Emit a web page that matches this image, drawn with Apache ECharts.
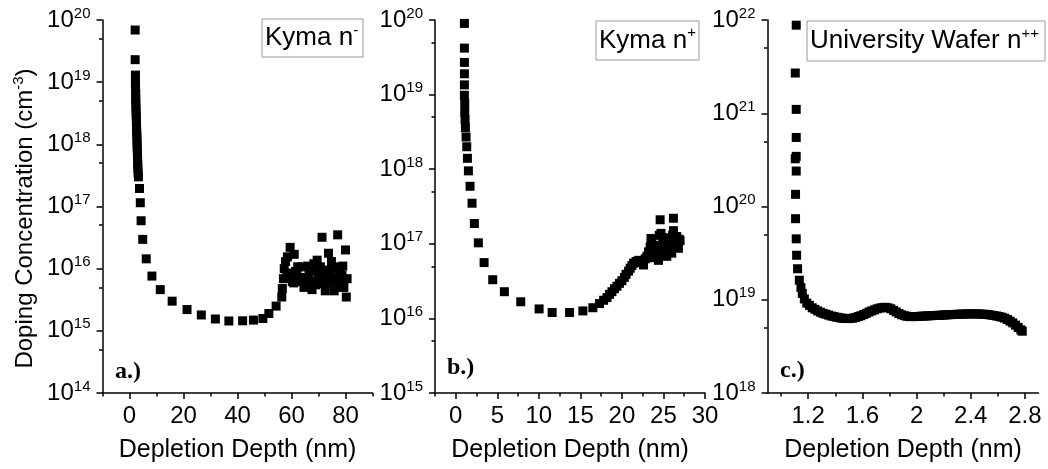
<!DOCTYPE html>
<html><head><meta charset="utf-8">
<script src="https://cdn.jsdelivr.net/npm/echarts@6/dist/echarts.min.js"></script>
<style>html,body{margin:0;padding:0;background:#fff}#c{width:1048px;height:469px}</style>
</head><body><div id="c"></div>
<script>
// ---- Panel a: Kyma n- ----
const depthA = [2.1,2.1,2.2,2.2,2.2,2.25,2.3,2.3,2.35,2.4,2.45,2.5,2.55,2.6,2.65,2.7,2.75,2.8,2.85,2.9,2.95,3.0,3.05,3.1,3.2,
  3.3,3.7,4.0,4.3,4.9,6.2,8.3,11.4,15.8,21.3,26.6,31.8,36.8,41.9,45.9,49.4,51.6,54.3,56.4,56.6,57.0,
  57.3,58.5,59.5,61.0,58.3,60.3,62.0,63.2,63.9,65.2,65.8,67.6,67.6,68.9,69.5,70.0,71.3,70.7,71.9,72.5,73.7,74.4,75.0,75.6,76.2,77.1,75.8,77.4,78.7,80.0,80.6,80.3,79.4,60.8,64.6,66.5,68.3,71.6,73.3,73.9,76.8,78.0,62.3,59.0,61.5,64.0,66.0,69.0,72.0,74.8,77.8,79.0,57.8];
const concA = [6.9e19,2.3e19,1.3e19,1.05e19,9.0e18,7.6e18,6.4e18,5.4e18,4.6e18,3.9e18,3.3e18,2.8e18,2.35e18,2.0e18,1.7e18,1.45e18,1.25e18,1.05e18,9.0e17,7.7e17,6.6e17,5.6e17,4.8e17,4.1e17,3.5e17,
  3.0e17,1.95e17,1.15e17,5.9e16,2.96e16,1.44e16,7.6e15,4.6e15,3.0e15,2.2e15,1.8e15,1.55e15,1.44e15,1.45e15,1.49e15,1.58e15,1.9e15,2.5e15,3.5e15,4.8e15,6.9e15,
  1.0e16,1.55e16,2.2e16,1.7e16,8.5e15,6.2e15,7.9e15,6.2e15,1.07e16,7.2e15,5.2e15,6.2e15,4.6e15,9.1e15,1.37e16,7.2e15,3.2e16,1.07e16,5.8e15,4.4e15,1.77e16,8.2e15,1.07e16,6.2e15,1.07e16,3.5e16,4.4e15,5.8e15,7.9e15,2.0e16,6.9e15,3.5e15,5.0e15,5.9e15,5.0e15,8.5e15,1.2e16,6.5e15,7.2e15,5.8e15,7.2e15,5.0e15,1.07e16,7.0e15,9.0e15,6.8e15,1.1e16,5.5e15,9.5e15,1.3e16,9.0e15,1.1e16,1.3e16];

// ---- Panel b: Kyma n+ ----
const depthB = [1.04,1.04,1.04,1.04,1.04,1.04,1.08,1.08,1.12,1.16,1.24,1.32,1.4,1.52,1.72,1.96,2.24,2.72,3.41,4.45,5.85,7.82,10.03,11.6,13.7,15.3,16.5,17.3,
  17.8,18.2,18.5,18.8,19.1,19.4,19.7,20.0,20.3,20.5,20.8,21.0,21.2,21.4,21.7,22.0,22.3,22.6,23.0,23.4,23.5,24.0,24.4,24.6,24.7,25.0,25.4,25.8,26.2,26.2,26.6,27.0,26.8,
  23.2,23.6,23.8,24.0,24.2,24.4,24.5,24.8,25.1,25.2,25.5,25.6,26.0,26.1,26.3,26.5,26.9,26.4,25.3,24.9,22.8,23.3,23.9,24.3,25.7];
const concB = [9.0e19,4.2e19,2.7e19,1.9e19,1.35e19,9.8e18,7.6e18,5.8e18,4.6e18,3.6e18,2.7e18,2.0e18,1.4e18,9.5e17,5.9e17,3.5e17,1.87e17,1.03e17,5.6e16,3.3e16,2.28e16,1.67e16,1.34e16,1.2e16,1.2e16,1.26e16,1.39e16,1.58e16,
  1.75e16,1.9e16,2.1e16,2.28e16,2.5e16,2.7e16,2.95e16,3.2e16,3.55e16,3.9e16,4.3e16,4.7e16,5.1e16,5.5e16,5.8e16,6.0e16,5.6e16,5.2e16,6.8e16,9.1e16,1.18e17,7.5e16,6.0e16,2.1e17,1.38e17,9.1e16,6.8e16,1.0e17,2.2e17,1.5e17,1.25e17,1.1e17,8.7e16,
  7.8e16,1.05e17,8.5e16,7.0e16,9.5e16,6.2e16,1.3e17,8.0e16,1.1e17,7.0e16,1.2e17,8.5e16,7.5e16,1.3e17,9.0e16,1.1e17,1.15e17,1.0e17,8.5e16,1.2e17,6.3e16,6.5e16,6.6e16,7.2e16,7.8e16];

// ---- Panel c: University Wafer n++ ----
const depthC = [1.112,1.105,1.112,1.112,1.112,1.105,1.112,1.107,1.107,1.112,1.115,1.122,1.135,1.147,1.157,1.172,1.19,1.21,1.23,1.25,1.27,1.29,1.31,1.33,1.35,1.37,1.39,1.41,1.43,1.45,1.47,1.49,1.51,1.53,1.55,1.57,1.59,1.61,1.63,1.65,1.67,1.69,1.71,1.73,1.75,1.77,1.79,1.81,1.83,1.85,1.87,1.89,1.91,1.93,1.95,1.97,1.99,2.01,2.03,2.05,2.07,2.09,2.11,2.13,2.15,2.17,2.19,2.21,2.23,2.25,2.27,2.29,2.31,2.33,2.35,2.37,2.39,2.41,2.43,2.45,2.47,2.49,2.51,2.53,2.55,2.57,2.59,2.61,2.63,2.65,2.67,2.69,2.71,2.73,2.75,2.77,2.78];
const concC = [8.8e21,2.7e21,1.1e21,5.5e20,3.45e20,3.25e20,2.4e20,1.35e20,7.4e19,4.5e19,3.0e19,2.15e19,1.62e19,1.35e19,1.17e19,1.02e19,9.2e18,8.7e18,8.2e18,7.9e18,7.6e18,7.35e18,7.15e18,7.0e18,6.85e18,6.7e18,6.6e18,6.5e18,6.42e18,6.35e18,6.3e18,6.28e18,6.3e18,6.35e18,6.45e18,6.6e18,6.75e18,6.95e18,7.15e18,7.4e18,7.6e18,7.8e18,8.0e18,8.15e18,8.25e18,8.3e18,8.2e18,8.0e18,7.7e18,7.4e18,7.1e18,6.9e18,6.75e18,6.65e18,6.6e18,6.6e18,6.6e18,6.62e18,6.65e18,6.68e18,6.7e18,6.72e18,6.75e18,6.78e18,6.8e18,6.82e18,6.85e18,6.87e18,6.9e18,6.92e18,6.95e18,6.97e18,7.0e18,7.0e18,7.02e18,7.05e18,7.05e18,7.05e18,7.05e18,7.05e18,7.03e18,7.0e18,6.97e18,6.92e18,6.85e18,6.78e18,6.7e18,6.6e18,6.5e18,6.35e18,6.15e18,5.9e18,5.65e18,5.35e18,5.05e18,4.75e18,4.6e18];

// ---- Axis ticks ----
const xTicksA = [0,20,40,60,80], xMinorA = [-10,10,30,50,70,90];
const xTicksB = [0,5,10,15,20,25,30], xMinorB = [-2.5,2.5,7.5,12.5,17.5,22.5,27.5];
const xTicksC = [1.2,1.6,2,2.4,2.8], xMinorC = [1.0,1.4,1.8,2.2,2.6];
const yRangeA = [14,20], yRangeB = [15,20], yRangeC = [18,22];
const xRangeA = [-10,90], xRangeB = [-2.5,30], xRangeC = [0.9,2.9];
const legendA = ['Kyma n','-'], legendB = ['Kyma n','+'], legendC = ['University Wafer n','++'];
const panelLabels = ['a.)','b.)','c.)'];

const FONT = '"Liberation Sans", Arial, sans-serif';
const grids = [
  {left:102.5, top:20, width:270, height:373},
  {left:435, top:20, width:270, height:373},
  {left:767.5, top:20, width:271, height:373}
];
const lineStyle = {color:'#000', width:1.5};

function majorX(i, range, ticks) {
  return {type:'value', gridIndex:i, position:'bottom', min:range[0], max:range[1],
    name:'Depletion Depth (nm)', nameLocation:'middle', nameGap:45,
    nameTextStyle:{fontFamily:FONT, fontSize:25, color:'#000'},
    axisLine:{show:true, onZero:false, lineStyle},
    axisTick:{show:true, length:6, customValues:ticks, lineStyle},
    axisLabel:{show:true, customValues:ticks, margin:11, fontFamily:FONT, fontSize:24, color:'#000'},
    splitLine:{show:false}};
}
function minorX(i, range, ticks) {
  return {type:'value', gridIndex:i, position:'bottom', min:range[0], max:range[1],
    axisLine:{show:false, onZero:false}, axisLabel:{show:false},
    axisTick:{show:true, length:3.5, customValues:ticks, lineStyle}, splitLine:{show:false}};
}
function yLab(v) { return '{b|10}{s|' + Math.round(Math.log10(v)) + '}'; }
function majorY(i, range, withName) {
  const ax = {type:'log', logBase:10, gridIndex:i, position:'left', min:Math.pow(10,range[0]), max:Math.pow(10,range[1]),
    axisLine:{show:true, onZero:false, lineStyle},
    axisTick:{show:true, length:6, lineStyle},
    minorTick:{show:false},
    axisLabel:{formatter:yLab, margin:12, rich:{
      b:{fontFamily:FONT, fontSize:24, color:'#000', lineHeight:28},
      s:{fontFamily:FONT, fontSize:15, color:'#000', verticalAlign:'top', lineHeight:15}}},
    splitLine:{show:false}};
  if (withName) {
    ax.name = '{n|Doping Concentration (cm}{s|-3}{n|)}';
    ax.nameLocation = 'middle'; ax.nameGap = 64; ax.nameRotate = 90;
    ax.nameTextStyle = {padding:[0, 24, 0, 0], rich:{n:{fontFamily:FONT, fontSize:24, color:'#000', lineHeight:27},
      s:{fontFamily:FONT, fontSize:15, color:'#000', verticalAlign:'top', lineHeight:15}}};
  }
  return ax;
}
function minorY(i, range) {
  const vals = [];
  for (let e = range[0]; e < range[1]; e++) vals.push(e + Math.log10(5));
  return {type:'value', gridIndex:i, position:'left', min:range[0], max:range[1],
    axisLine:{show:false, onZero:false}, axisLabel:{show:false},
    axisTick:{show:true, length:3.5, customValues:vals, lineStyle}, splitLine:{show:false}};
}
function pts(xs, ys) { return xs.map((x, k) => [x, ys[k]]); }
function scatter(i, xs, ys) {
  return {type:'scatter', xAxisIndex:i, yAxisIndex:i, symbol:'rect', symbolSize:9,
    itemStyle:{color:'#000', opacity:1}, data:pts(xs, ys), silent:true};
}
function legendBox(x, y, w, h, txt) {
  return [
    {type:'rect', shape:{x:x, y:y, width:w, height:h}, style:{fill:'#fff', stroke:'#999', lineWidth:1}, z:10},
    {type:'text', x:x+3, y:y+h/2, z:11, style:{text:'{t|' + txt[0] + '}{s|' + txt[1] + '}', verticalAlign:'middle', align:'left',
      rich:{t:{fontFamily:FONT, fontSize:26, fill:'#000', lineHeight:30},
            s:{fontFamily:FONT, fontSize:15, fill:'#000', verticalAlign:'top', lineHeight:15}}}}
  ];
}
function panelLabel(x, y, t) {
  return {type:'text', x:x, y:y, z:11, style:{text:t, font:'bold 24px "Liberation Serif", "Times New Roman", serif', fill:'#000', verticalAlign:'top'}};
}

const chart = echarts.init(document.getElementById('c'), null, {renderer:'canvas'});
chart.setOption({
  animation:false,
  backgroundColor:'#fff',
  grid:grids,
  xAxis:[majorX(0,xRangeA,xTicksA), majorX(1,xRangeB,xTicksB), majorX(2,xRangeC,xTicksC),
         minorX(0,xRangeA,xMinorA), minorX(1,xRangeB,xMinorB), minorX(2,xRangeC,xMinorC)],
  yAxis:[majorY(0,yRangeA,true), majorY(1,yRangeB,false), majorY(2,yRangeC,false),
         minorY(0,yRangeA), minorY(1,yRangeB), minorY(2,yRangeC)],
  series:[scatter(0,depthA,concA), scatter(1,depthB,concB), scatter(2,depthC,concC)],
  graphic:[
    ...legendBox(262, 19, 101, 38, legendA),
    ...legendBox(596, 21, 103, 39, legendB),
    ...legendBox(807, 21, 238, 40, legendC),
    panelLabel(115, 360, panelLabels[0]),
    panelLabel(447, 356, panelLabels[1]),
    panelLabel(780, 359, panelLabels[2])
  ]
});
</script></body></html>
